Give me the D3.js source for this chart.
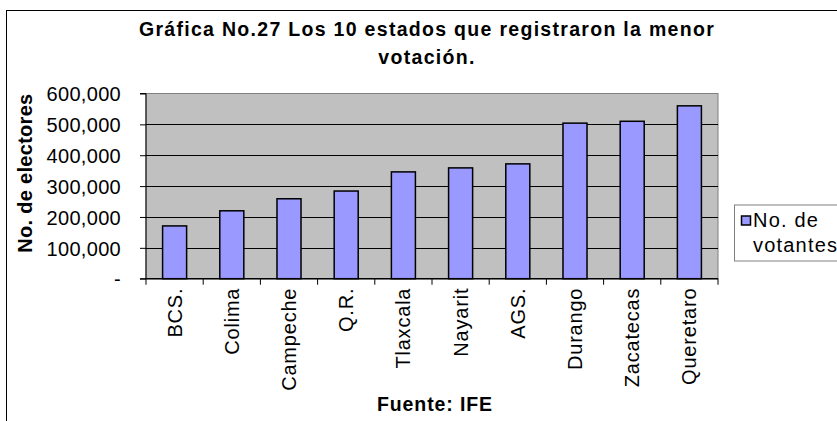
<!DOCTYPE html>
<html>
<head>
<meta charset="utf-8">
<script src="https://cdn.jsdelivr.net/npm/d3@7"></script>
<style>
  body { margin: 0; background: #fff; }
  svg text { font-family: "Liberation Sans", Arial, sans-serif; fill: #000; }
</style>
</head>
<body>
<svg id="chart" width="837" height="421"></svg>
<script>
const estados = ["BCS.", "Colima", "Campeche", "Q.R.", "Tlaxcala", "Nayarit", "AGS.", "Durango", "Zacatecas", "Queretaro"];
const votantes = [171000, 220000, 259000, 284000, 346000, 359000, 372000, 504000, 510000, 560000];
const yTicks = [0, 100000, 200000, 300000, 400000, 500000, 600000];
const titleLines = ["Gráfica No.27 Los 10 estados que registraron la menor", "votación."];
const serieName = ["No. de", "votantes"];

const svg = d3.select("#chart");
const plot = {left: 146, right: 718, top: 93.5, bottom: 278.7};

// chart border (right & bottom fall outside the picture)
svg.append("rect")
    .attr("x", 6.5).attr("y", 10.5)
    .attr("width", 900).attr("height", 500)
    .attr("fill", "none").attr("stroke", "#000");

const x = d3.scaleBand()
    .domain(estados)
    .range([plot.left, plot.right])
    .padding(0);

const y = d3.scaleLinear()
    .domain([0, 600000])
    .range([plot.bottom, plot.top]);

// plot area
svg.append("rect")
    .attr("x", plot.left).attr("y", plot.top)
    .attr("width", plot.right - plot.left).attr("height", plot.bottom - plot.top)
    .attr("fill", "#c0c0c0").attr("stroke", "#808080");

// gridlines
svg.append("g")
    .selectAll("line")
    .data(yTicks.filter(d => d > 0 && d < 600000))
    .join("line")
    .attr("x1", plot.left).attr("x2", plot.right)
    .attr("y1", d => Math.round(y(d)) + 0.5).attr("y2", d => Math.round(y(d)) + 0.5)
    .attr("stroke", "#000");

// bars
const barW = x.bandwidth() * 0.42;
svg.append("g")
    .selectAll("rect")
    .data(estados)
    .join("rect")
    .attr("x", d => x(d) + (x.bandwidth() - barW) / 2)
    .attr("y", (d, i) => y(votantes[i]))
    .attr("width", barW)
    .attr("height", (d, i) => y(0) - y(votantes[i]))
    .attr("fill", "#9999ff")
    .attr("stroke", "#000")
    .attr("stroke-width", 1.5);

// y axis
const yAxis = d3.axisLeft(y)
    .tickValues(yTicks)
    .tickSize(6)
    .tickPadding(19)
    .tickFormat(d => d === 0 ? "-" : d3.format(",")(d));

svg.append("g")
    .attr("transform", `translate(${plot.left},0)`)
    .call(yAxis)
    .attr("font-family", null)
    .attr("font-size", null)
    .call(g => g.select(".domain").attr("stroke", "#000").attr("d", `M-6,${plot.top}H0V${plot.bottom}H-6`))
    .call(g => g.selectAll("text")
        .attr("dy", "0.36em")
        .style("font-size", "20px")
        .style("letter-spacing", "0.3px"));

// x axis: ticks at category boundaries
svg.append("line")
    .attr("x1", plot.left).attr("x2", plot.right)
    .attr("y1", plot.bottom).attr("y2", plot.bottom)
    .attr("stroke", "#000").attr("stroke-width", 1.5);

svg.append("g")
    .selectAll("line")
    .data(estados.concat(["_end"]))
    .join("line")
    .attr("x1", (d, i) => i < estados.length ? x(d) : plot.right)
    .attr("x2", (d, i) => i < estados.length ? x(d) : plot.right)
    .attr("y1", plot.bottom).attr("y2", plot.bottom + 6)
    .attr("stroke", "#000");

svg.append("g")
    .selectAll("text")
    .data(estados)
    .join("text")
    .attr("transform", d => `translate(${x(d) + x.bandwidth() / 2 + 7},${plot.bottom + 9}) rotate(-90)`)
    .attr("text-anchor", "end")
    .style("font-size", "20px")
    .style("letter-spacing", "0.8px")
    .text(d => d);

// title
svg.append("text")
    .attr("text-anchor", "middle")
    .style("font-size", "19.5px")
    .style("font-weight", "bold")
    .style("letter-spacing", "1.3px")
    .selectAll("tspan")
    .data(titleLines)
    .join("tspan")
    .attr("x", 427)
    .attr("y", (d, i) => 36 + i * 27.5)
    .text(d => d);

// axis titles
svg.append("text")
    .attr("transform", `translate(32,${(plot.top + plot.bottom) / 2 - 13}) rotate(-90)`)
    .attr("text-anchor", "middle")
    .style("font-size", "20px")
    .style("font-weight", "bold")
    .style("letter-spacing", "0.3px")
    .text("No. de electores");

svg.append("text")
    .attr("x", (plot.left + plot.right) / 2 + 3)
    .attr("y", 411)
    .attr("text-anchor", "middle")
    .style("font-size", "19.5px")
    .style("font-weight", "bold")
    .style("letter-spacing", "0.9px")
    .text("Fuente: IFE");

// legend
const legend = svg.append("g").attr("transform", "translate(734,204.5)");
legend.append("rect")
    .attr("x", 0.5).attr("y", 0.5)
    .attr("width", 150).attr("height", 56)
    .attr("fill", "#fff").attr("stroke", "#808080");
legend.append("rect")
    .attr("x", 7.5).attr("y", 11.5)
    .attr("width", 9).attr("height", 9)
    .attr("fill", "#9999ff").attr("stroke", "#000").attr("stroke-width", 1.5);
legend.append("text")
    .style("font-size", "20px")
    .style("letter-spacing", "1.2px")
    .selectAll("tspan")
    .data(serieName)
    .join("tspan")
    .attr("x", 19)
    .attr("y", (d, i) => 22 + i * 25)
    .text(d => d);
</script>
</body>
</html>
